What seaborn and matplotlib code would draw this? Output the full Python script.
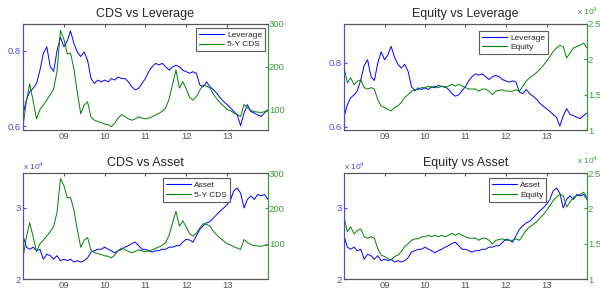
import numpy as np
import pandas as pd
import matplotlib
matplotlib.use("Agg")
import matplotlib.pyplot as plt
from matplotlib.lines import Line2D
import seaborn as sns

# ---- data (monthly, Jan 2008 .. Jan 2014) ----
dates = pd.date_range("2008-01-01", "2014-01-01", freq="MS")

leverage = [0.631, 0.670, 0.691, 0.700, 0.713, 0.748, 0.792, 0.810, 0.757, 0.745,
            0.800, 0.835, 0.810, 0.826, 0.852, 0.818, 0.796, 0.784, 0.796, 0.774,
            0.726, 0.713, 0.722, 0.717, 0.722, 0.717, 0.726, 0.722, 0.730, 0.726,
            0.726, 0.717, 0.704, 0.696, 0.700, 0.713, 0.726, 0.745, 0.757, 0.766,
            0.762, 0.766, 0.757, 0.748, 0.757, 0.761, 0.757, 0.748, 0.744, 0.740,
            0.744, 0.740, 0.709, 0.704, 0.717, 0.704, 0.696, 0.687, 0.674, 0.665,
            0.657, 0.648, 0.639, 0.630, 0.602, 0.635, 0.657, 0.639, 0.635, 0.630,
            0.626, 0.635, 0.644]

cds = [60, 120, 160, 120, 78, 100, 110, 122, 135, 148,
       190, 285, 265, 230, 232, 195, 140, 90, 110, 118,
       82, 75, 72, 70, 66, 65, 60, 68, 80, 88,
       84, 78, 75, 78, 83, 80, 78, 80, 83, 87,
       91, 96, 104, 125, 160, 192, 150, 165, 148, 128,
       122, 130, 145, 157, 155, 150, 135, 125, 115, 108,
       100, 97, 92, 88, 84, 112, 104, 98, 95, 94,
       93, 95, 97]

equity = [1.88, 1.67, 1.74, 1.64, 1.69, 1.71, 1.60, 1.58, 1.60, 1.58,
          1.43, 1.34, 1.32, 1.29, 1.27, 1.32, 1.34, 1.39, 1.46, 1.50,
          1.55, 1.57, 1.57, 1.60, 1.60, 1.62, 1.60, 1.62, 1.60, 1.62,
          1.60, 1.62, 1.65, 1.62, 1.65, 1.62, 1.60, 1.58, 1.58, 1.58,
          1.55, 1.58, 1.58, 1.55, 1.50, 1.55, 1.56, 1.57, 1.55, 1.55,
          1.55, 1.57, 1.55, 1.62, 1.69, 1.74, 1.77, 1.81, 1.86, 1.91,
          1.97, 2.04, 2.11, 2.16, 2.20, 2.18, 2.02, 2.09, 2.16, 2.18,
          2.20, 2.23, 2.16]

asset = [2.61, 2.45, 2.42, 2.45, 2.40, 2.42, 2.28, 2.35, 2.33, 2.28,
         2.33, 2.26, 2.28, 2.26, 2.28, 2.24, 2.26, 2.24, 2.26, 2.30,
         2.38, 2.40, 2.42, 2.42, 2.45, 2.42, 2.40, 2.37, 2.40, 2.42,
         2.45, 2.47, 2.50, 2.52, 2.47, 2.42, 2.42, 2.40, 2.38, 2.40,
         2.40, 2.42, 2.42, 2.45, 2.45, 2.47, 2.47, 2.52, 2.56, 2.55,
         2.52, 2.61, 2.70, 2.75, 2.79, 2.81, 2.86, 2.91, 2.96, 3.00,
         3.05, 3.12, 3.24, 3.28, 3.21, 3.00, 3.12, 3.17, 3.12, 3.19,
         3.17, 3.19, 3.12]

year_ticks = ["2009-01-01", "2010-01-01", "2011-01-01", "2012-01-01", "2013-01-01"]
year_labels = ["09", "10", "11", "12", "13"]

df = pd.DataFrame({"date": dates, "Leverage": leverage, "5-Y CDS": cds,
                   "Equity": equity, "Asset": asset})

BLUE = "#0000ff"
GREEN = "#008000"
BLUE_TXT = "#4b4bd8"
GREEN_TXT = "#3c9a3c"
GRAY = "#555555"

sns.set_style("white")
plt.rcParams["font.family"] = ["Liberation Sans", "DejaVu Sans"]
plt.rcParams["mathtext.fontset"] = "custom"
plt.rcParams["mathtext.rm"] = "Liberation Sans"

fig = plt.figure(figsize=(6.0, 2.89), dpi=100)


def panel(rect, title, lcol, rcol, lylim, lyt, lytl, rylim, ryt, rytl,
          leg_anchor, lexp=False, rexp=False):
    ax = fig.add_axes(rect)
    sns.lineplot(data=df, x="date", y=lcol, ax=ax, color=BLUE, lw=0.7, legend=False)
    ax2 = ax.twinx()
    sns.lineplot(data=df, x="date", y=rcol, ax=ax2, color=GREEN, lw=0.7, legend=False)
    ax.set_xlim(pd.Timestamp("2008-01-01"), pd.Timestamp("2014-01-01"))
    ax.set_ylim(*lylim)
    ax2.set_ylim(*rylim)
    ax.set_xticks(pd.to_datetime(year_ticks))
    ax.set_xticklabels(year_labels)
    ax.set_yticks(lyt)
    ax.set_yticklabels(lytl)
    ax2.set_yticks(ryt)
    ax2.set_yticklabels(rytl)
    ax.set_xlabel("")
    ax.set_ylabel("")
    ax2.set_ylabel("")
    ax.set_title(title, fontsize=9, pad=5)
    ax.tick_params(axis="x", direction="in", length=2.5, labelsize=6.8, colors=GRAY,
                   top=True, pad=1.2)
    ax.tick_params(axis="y", direction="in", length=2.5, labelsize=6.8,
                   colors=BLUE_TXT, pad=1.5)
    ax2.tick_params(axis="y", direction="in", length=2.5, labelsize=6.8,
                    colors=GREEN_TXT, pad=0.6)
    for a in (ax, ax2):
        for s in a.spines.values():
            s.set_linewidth(0.8)
            s.set_color(GRAY)
        a.spines["left"].set_color(BLUE_TXT)
        a.spines["right"].set_color(GREEN_TXT)
    if lexp:
        ax.text(0.0, 1.015, r"x 10$^4$", transform=ax.transAxes, fontsize=6,
                color=BLUE_TXT, ha="left", va="bottom")
    if rexp:
        top = rect[1] + rect[3]
        fig.text(0.997, top + 0.024, r"x 10$^4$", fontsize=6,
                 color=GREEN_TXT, ha="right", va="bottom")
    handles = [Line2D([], [], color=BLUE, lw=0.8), Line2D([], [], color=GREEN, lw=0.8)]
    leg = ax2.legend(handles, [lcol, rcol], loc="upper right", bbox_to_anchor=leg_anchor,
                     borderaxespad=0, fontsize=6, frameon=True, fancybox=False,
                     handlelength=3.0, handletextpad=0.4, borderpad=0.35,
                     labelspacing=0.2)
    leg.get_frame().set_edgecolor("#333333")
    leg.get_frame().set_linewidth(0.8)
    return ax, ax2


panel([0.0383, 0.550, 0.4083, 0.367], "CDS vs Leverage", "Leverage", "5-Y CDS",
      (0.59, 0.87), [0.6, 0.8], ["0.6", "0.8"],
      (52, 300), [100, 200, 300], ["100", "200", "300"], (0.988, 0.96))

panel([0.5733, 0.550, 0.405, 0.367], "Equity vs Leverage", "Leverage", "Equity",
      (0.59, 0.922), [0.6, 0.8], ["0.6", "0.8"],
      (1.0, 2.5), [1.0, 1.5, 2.0, 2.5], ["1", "1.5", "2", "2.5"], (0.841, 0.935),
      rexp=True)

panel([0.0383, 0.034, 0.4083, 0.367], "CDS vs Asset", "Asset", "5-Y CDS",
      (2.0, 3.49), [2, 3], ["2", "3"],
      (0, 300), [100, 200, 300], ["100", "200", "300"], (0.845, 0.95), lexp=True)

panel([0.5733, 0.034, 0.405, 0.367], "Equity vs Asset", "Asset", "Equity",
      (2.0, 3.49), [2, 3], ["2", "3"],
      (1.0, 2.5), [1.0, 1.5, 2.0, 2.5], ["1", "1.5", "2", "2.5"], (0.833, 0.95),
      lexp=True, rexp=True)

fig.savefig("out.png", dpi=100)
